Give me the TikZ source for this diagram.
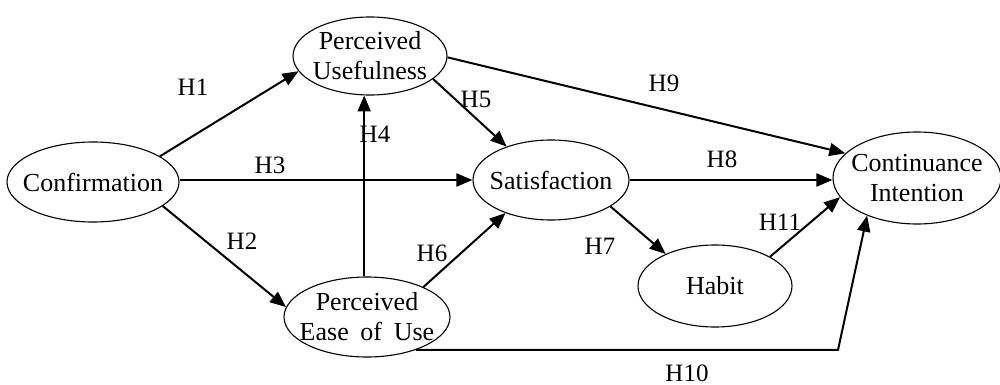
\documentclass[tikz,border=0pt]{standalone}
\usepackage{fontspec}
\setmainfont{Liberation Serif}
\usetikzlibrary{shapes.geometric,arrows.meta}
\begin{document}
\begin{tikzpicture}[x=1pt,y=-1pt,
  construct/.style={ellipse,draw,line width=1.1pt,inner sep=0pt},
  ctext/.style={align=center,inner sep=0pt,font=\fontsize{26}{30}\selectfont},
  arr/.style={line width=2pt,-{Triangle[length=16pt,width=13pt]}},
  hlab/.style={font=\fontsize{25}{25}\selectfont,inner sep=0pt}]
\useasboundingbox (0,0) rectangle (1000,385);
\node[construct,minimum width=172pt,minimum height=80pt] (conf) at (93,182) {};
\node[construct,minimum width=154pt,minimum height=78pt] (pu) at (370,56) {};
\node[construct,minimum width=166pt,minimum height=80pt] (peou) at (367,317) {};
\node[construct,minimum width=156pt,minimum height=80pt] (sat) at (551,180) {};
\node[construct,minimum width=154pt,minimum height=82pt] (habit) at (715,286) {};
\node[construct,minimum width=168pt,minimum height=92pt] (ci) at (917,178) {};
\node[ctext] (tconf) at (conf) {Confirmation};
\node[ctext] (tpu) at (pu) {Perceived\\Usefulness};
\node[ctext] (tpeou) at (peou) {Perceived\\Ease\hspace{0.45em}of\hspace{0.45em}Use};
\node[ctext] (tsat) at (sat) {Satisfaction};
\node[ctext] (thabit) at (habit) {Habit};
\node[ctext] (tci) at (ci) {Continuance\\Intention};
\coordinate (h10) at (838,351);
% connectors
\draw[arr] (conf.21) -- (pu.192);
\draw[arr] (sat.west -| conf.east) -- (sat.west);
\draw[arr] (conf.-19) -- (peou.173);
\draw[arr] (peou.94) -- (peou.94 |- pu.263);
\draw[arr] (pu.-20) -- (sat.143);
\draw[arr] (peou.28) -- (sat.216);
\draw[arr] (pu.-1) -- (ci.161);
\draw[arr] (sat.east) -- (ci.west |- sat.east);
\draw[arr] (sat.-24) -- (habit.147);
\draw[arr] (habit.28) -- (ci.194);
\draw[arr] (peou.-34) -- (peou.-34 -| h10) -- (ci.217);
% labels
\node[hlab] (l1) at (193,87) {H1};
\node[hlab] (l2) at (242,241) {H2};
\node[hlab] (l3) at (270,165) {H3};
\node[hlab] (l4) at (375,134) {H4};
\node[hlab] (l5) at (476,99) {H5};
\node[hlab] (l6) at (432,253) {H6};
\node[hlab] (l7) at (600,246) {H7};
\node[hlab] (l8) at (722,159) {H8};
\node[hlab] (l9) at (664,83) {H9};
\node[hlab] (l10) at (687,373) {H10};
\node[hlab] (l11) at (780,222) {H11};
\end{tikzpicture}
\end{document}
